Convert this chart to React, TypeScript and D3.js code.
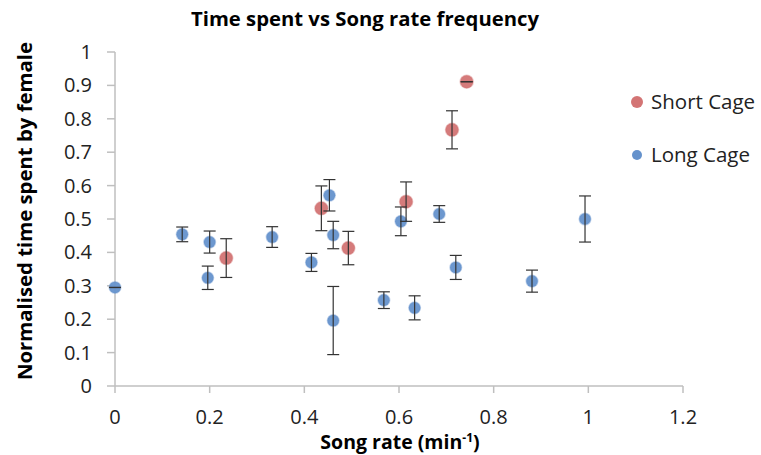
import React from "react";
import * as d3 from "d3";

const shortX = [0.235, 0.436, 0.493, 0.615, 0.712, 0.743];
const shortY = [0.383, 0.532, 0.413, 0.552, 0.767, 0.911];
const shortErr = [0.058, 0.067, 0.05, 0.059, 0.057, 0.0];

const longX = [0.0, 0.142, 0.2, 0.196, 0.332, 0.415, 0.453, 0.461, 0.461, 0.568, 0.604, 0.633, 0.685, 0.72, 0.881, 0.993];
const longY = [0.295, 0.454, 0.431, 0.324, 0.446, 0.37, 0.571, 0.452, 0.196, 0.257, 0.493, 0.234, 0.515, 0.355, 0.314, 0.5];
const longErr = [0.0, 0.022, 0.033, 0.035, 0.031, 0.027, 0.047, 0.041, 0.102, 0.025, 0.043, 0.036, 0.025, 0.036, 0.033, 0.069];

const xTicks = [0, 0.2, 0.4, 0.6, 0.8, 1, 1.2];
const yTicks = [0, 0.1, 0.2, 0.3, 0.4, 0.5, 0.6, 0.7, 0.8, 0.9, 1];

const title = "Time spent vs Song rate frequency";
const yLabel = "Normalised time spent by female";
const seriesNames = ["Short Cage", "Long Cage"];

const RED = "#d37474";
const BLUE = "#6592cc";
const AXIS = "#bfbfbf";
const FONT = "'Open Sans', sans-serif";

export default function App() {
  const x = d3.scaleLinear().domain([0, 1.2]).range([115, 683]);
  const y = d3.scaleLinear().domain([0, 1]).range([386, 52]);

  const series = [
    { name: seriesNames[0], xs: shortX, ys: shortY, es: shortErr, color: RED, r: 6.5 },
    { name: seriesNames[1], xs: longX, ys: longY, es: longErr, color: BLUE, r: 5.8 },
  ];
  const cap = 6;

  return (
    <svg width={761} height={455} style={{ position: "absolute", left: 0, top: 0 }} fontFamily={FONT}>
      <rect width={761} height={455} fill="#fff" />
      <text x={365} y={26} textAnchor="middle" fontSize={20} fontWeight="bold" fill="#000" textLength={348} lengthAdjust="spacingAndGlyphs">{title}</text>

      {/* axes */}
      <line x1={x(0)} x2={x(1.2)} y1={y(0)} y2={y(0)} stroke={AXIS} strokeWidth={1.5} />
      <line x1={x(0)} x2={x(0)} y1={y(0)} y2={y(1)} stroke={AXIS} strokeWidth={1.5} />
      {yTicks.map((t) => (
        <g key={"y" + t}>
          <line x1={x(0) - 8} x2={x(0)} y1={y(t)} y2={y(t)} stroke={AXIS} strokeWidth={1.5} />
          <text x={92} y={y(t)} dy="0.35em" textAnchor="end" fontSize={20} fill="#222">{d3.format("")(t)}</text>
        </g>
      ))}
      {xTicks.map((t) => (
        <g key={"x" + t}>
          <line x1={x(t)} x2={x(t)} y1={y(0)} y2={y(0) + 7} stroke={AXIS} strokeWidth={1.5} />
          <text x={x(t)} y={417} dy="0.35em" textAnchor="middle" fontSize={20} fill="#222">{d3.format("")(t)}</text>
        </g>
      ))}

      <text transform={`translate(32,211) rotate(-90)`} textAnchor="middle" fontSize={20} fontWeight="bold" fill="#000" textLength={338} lengthAdjust="spacingAndGlyphs">{yLabel}</text>
      <text x={400} y={449} textAnchor="middle" fontSize={19.5} fontWeight="bold" fill="#000">
        Song rate (min<tspan dy={-7} fontSize={12}>-1</tspan><tspan dy={7}>)</tspan>
      </text>

      {/* markers */}
      {series.map((s) => (
        <g key={s.name}>
          {s.xs.map((v, i) => (
            <circle key={i} cx={x(v)} cy={y(s.ys[i])} r={s.r} fill={s.color} stroke={s.color} strokeOpacity={0.4} strokeWidth={1.5} fillOpacity={0.95} />
          ))}
        </g>
      ))}
      {/* error bars */}
      {series.map((s) => (
        <g key={"e" + s.name} stroke="#333" strokeWidth={1.2}>
          {s.xs.map((v, i) => {
            const cx = x(v);
            const top = y(s.ys[i] + s.es[i]);
            const bot = y(s.ys[i] - s.es[i]);
            return (
              <g key={i}>
                <line x1={cx} x2={cx} y1={top} y2={bot} />
                <line x1={cx - cap} x2={cx + cap} y1={top} y2={top} />
                <line x1={cx - cap} x2={cx + cap} y1={bot} y2={bot} />
              </g>
            );
          })}
        </g>
      ))}

      {/* legend */}
      {series.map((s, i) => (
        <g key={"l" + s.name} transform={`translate(637,${102 + i * 53})`}>
          <circle r={i === 0 ? 6 : 5} fill={s.color} />
          <text x={14} dy="0.35em" fontSize={20.5} fill="#222">{s.name}</text>
        </g>
      ))}
    </svg>
  );
}
